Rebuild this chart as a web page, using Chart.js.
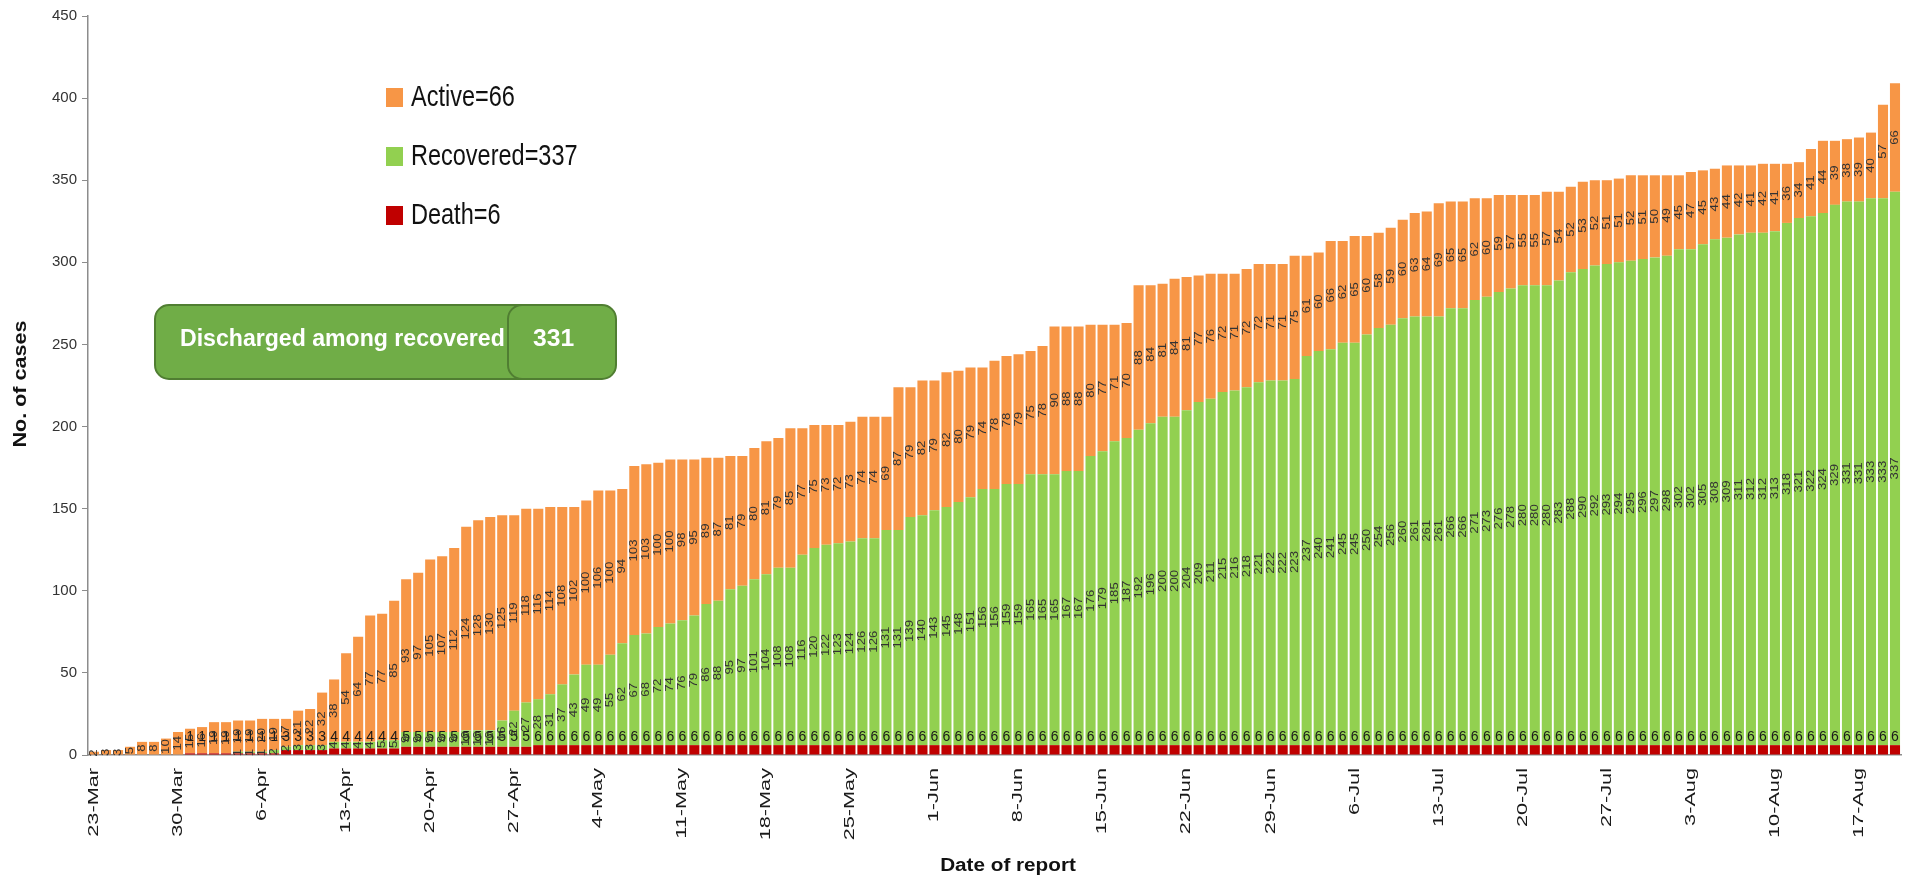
<!DOCTYPE html>
<html>
<head>
<meta charset="utf-8">
<script src="https://cdn.jsdelivr.net/npm/chart.js@4.4.0/dist/chart.umd.min.js"></script>
<style>
  body { margin: 0; background: #fff; }
  #wrap { width: 1912px; height: 881px; }
</style>
</head>
<body>
<div id="wrap"><canvas id="casesChart" width="1912" height="881"></canvas></div>
<script>
// daily cumulative counts, 23-Mar to 20-Aug
const death = [
    0, 0, 0, 0, 0, 0, 0, 0, 1, 1,
    1, 1, 1, 1, 1, 1, 3, 3, 3, 3,
    4, 4, 4, 4, 4, 4, 5, 5, 5, 5,
    5, 5, 5, 5, 5, 5, 5, 6, 6, 6,
    6, 6, 6, 6, 6, 6, 6, 6, 6, 6,
    6, 6, 6, 6, 6, 6, 6, 6, 6, 6,
    6, 6, 6, 6, 6, 6, 6, 6, 6, 6,
    6, 6, 6, 6, 6, 6, 6, 6, 6, 6,
    6, 6, 6, 6, 6, 6, 6, 6, 6, 6,
    6, 6, 6, 6, 6, 6, 6, 6, 6, 6,
    6, 6, 6, 6, 6, 6, 6, 6, 6, 6,
    6, 6, 6, 6, 6, 6, 6, 6, 6, 6,
    6, 6, 6, 6, 6, 6, 6, 6, 6, 6,
    6, 6, 6, 6, 6, 6, 6, 6, 6, 6,
    6, 6, 6, 6, 6, 6, 6, 6, 6, 6, 6
];
const recovered = [
    0, 0, 0, 0, 0, 0, 0, 0, 0, 0,
    0, 0, 1, 1, 1, 2, 2, 3, 3, 3,
    4, 4, 4, 4, 5, 5, 9, 9, 9, 9,
    9, 10, 10, 10, 16, 22, 27, 28, 31, 37,
    43, 49, 49, 55, 62, 67, 68, 72, 74, 76,
    79, 86, 88, 95, 97, 101, 104, 108, 108, 116,
    120, 122, 123, 124, 126, 126, 131, 131, 139, 140,
    143, 145, 148, 151, 156, 156, 159, 159, 165, 165,
    165, 167, 167, 176, 179, 185, 187, 192, 196, 200,
    200, 204, 209, 211, 215, 216, 218, 221, 222, 222,
    223, 237, 240, 241, 245, 245, 250, 254, 256, 260,
    261, 261, 261, 266, 266, 271, 273, 276, 278, 280,
    280, 280, 283, 288, 290, 292, 293, 294, 295, 296,
    297, 298, 302, 302, 305, 308, 309, 311, 312, 312,
    313, 318, 321, 322, 324, 329, 331, 331, 333, 333, 337
];
const active = [
    2, 3, 3, 5, 8, 8, 10, 14, 15, 16,
    19, 19, 19, 19, 20, 19, 17, 21, 22, 32,
    38, 54, 64, 77, 77, 85, 93, 97, 105, 107,
    112, 124, 128, 130, 125, 119, 118, 116, 114, 108,
    102, 100, 106, 100, 94, 103, 103, 100, 100, 98,
    95, 89, 87, 81, 79, 80, 81, 79, 85, 77,
    75, 73, 72, 73, 74, 74, 69, 87, 79, 82,
    79, 82, 80, 79, 74, 78, 78, 79, 75, 78,
    90, 88, 88, 80, 77, 71, 70, 88, 84, 81,
    84, 81, 77, 76, 72, 71, 72, 72, 71, 71,
    75, 61, 60, 66, 62, 65, 60, 58, 59, 60,
    63, 64, 69, 65, 65, 62, 60, 59, 57, 55,
    55, 57, 54, 52, 53, 52, 51, 51, 52, 51,
    50, 49, 45, 47, 45, 43, 44, 42, 41, 42,
    41, 36, 34, 41, 44, 39, 38, 39, 40, 57, 66
];
const discharged = 331;
const yTicks = [0, 50, 100, 150, 200, 250, 300, 350, 400, 450];

const monthNames = ['Jan', 'Feb', 'Mar', 'Apr', 'May', 'Jun', 'Jul', 'Aug', 'Sep', 'Oct', 'Nov', 'Dec'];
const dateLabels = active.map((_, i) => {
    const d = new Date(2020, 2, 23 + i);
    return d.getDate() + '-' + monthNames[d.getMonth()];
});

const COLORS = { death: '#C00000', recovered: '#92D050', active: '#F79646' };
const TEXT = '#262626';

// stretched text helper (the original export is a bit stretched)
function drawText(ctx, text, x, y, font, opts = {}) {
    ctx.save();
    ctx.translate(x, y);
    if (opts.rotate) ctx.rotate(opts.rotate);
    ctx.scale(opts.sx || 1, opts.sy || 1);
    ctx.font = font;
    ctx.fillStyle = opts.color || TEXT;
    ctx.textAlign = opts.align || 'center';
    ctx.textBaseline = opts.baseline || 'middle';
    ctx.fillText(text, 0, 0);
    ctx.restore();
}

const barLabels = {
    id: 'barLabels',
    afterDatasetsDraw(chart) {
        const ctx = chart.ctx;
        chart.data.datasets.forEach((ds, di) => {
            const meta = chart.getDatasetMeta(di);
            meta.data.forEach((bar, i) => {
                const v = ds.data[i];
                if (!v) return;
                if (di === 0) {
                    drawText(ctx, String(v), bar.x, bar.base - 17, '14px "Liberation Sans"', { color: '#1a1a1a' });
                } else {
                    const cy = (bar.y + bar.base) / 2;
                    drawText(ctx, String(v), bar.x, cy, '11px "Liberation Sans"',
                        { rotate: -Math.PI / 2, sx: 1.2, color: '#333' });
                }
            });
        });
    }
};

const decorations = {
    id: 'decorations',
    afterDraw(chart) {
        const ctx = chart.ctx;
        const xs = chart.scales.x;
        const ys = chart.scales.y;
        const area = chart.chartArea;

        // y tick labels
        yTicks.forEach(t => {
            drawText(ctx, String(t), area.left - 11, ys.getPixelForValue(t), '15px "Liberation Sans"',
                { align: 'right', color: '#333' });
        });

        // x labels every 7 days
        dateLabels.forEach((lab, i) => {
            if (i % 7 !== 0) return;
            drawText(ctx, lab, xs.getPixelForValue(i), area.bottom + 13, '14px "Liberation Sans"',
                { rotate: -Math.PI / 2, sx: 1.55, align: 'right', color: '#1a1a1a' });
        });

        // axis titles
        drawText(ctx, 'No. of cases', 21, 384, 'bold 18px "Liberation Sans"',
            { rotate: -Math.PI / 2, sx: 1.2, color: '#111' });
        drawText(ctx, 'Date of report', 1008, 866, 'bold 18px "Liberation Sans"',
            { sx: 1.15, color: '#111' });

        // legend
        const legendItems = [
            { text: 'Active=' + active[active.length - 1], color: COLORS.active, y: 98 },
            { text: 'Recovered=' + recovered[recovered.length - 1], color: COLORS.recovered, y: 157 },
            { text: 'Death=' + death[death.length - 1], color: COLORS.death, y: 216 }
        ];
        legendItems.forEach(item => {
            ctx.fillStyle = item.color;
            ctx.fillRect(386, item.y - 10, 17, 19);
            drawText(ctx, item.text, 411, item.y, '25px "Liberation Sans"',
                { align: 'left', sx: 0.94, sy: 1.15, color: '#111' });
        });

        // discharged box
        ctx.save();
        ctx.lineWidth = 2;
        ctx.strokeStyle = '#507E32';
        ctx.fillStyle = '#70AD47';
        ctx.beginPath();
        ctx.roundRect(155, 305, 424, 74, 14);
        ctx.fill();
        ctx.stroke();
        ctx.beginPath();
        ctx.roundRect(508, 305, 108, 74, 14);
        ctx.fill();
        ctx.stroke();
        ctx.restore();
        drawText(ctx, 'Discharged among recovered', 180, 340, 'bold 22px "Liberation Sans"',
            { align: 'left', sx: 1.05, sy: 1.05, color: '#fff' });
        drawText(ctx, String(discharged), 533, 340, 'bold 22px "Liberation Sans"',
            { align: 'left', sx: 1.12, sy: 1.05, color: '#fff' });
    }
};

const ctx = document.getElementById('casesChart').getContext('2d');

new Chart(ctx, {
    type: 'bar',
    data: {
        labels: dateLabels,
        datasets: [
            { label: 'Death', data: death, backgroundColor: COLORS.death },
            { label: 'Recovered', data: recovered, backgroundColor: COLORS.recovered },
            { label: 'Active', data: active, backgroundColor: COLORS.active }
        ]
    },
    options: {
        responsive: false,
        animation: false,
        datasets: {
            bar: { barPercentage: 0.84, categoryPercentage: 1, borderWidth: 0 }
        },
        layout: {
            padding: { top: 16, right: 11, left: 0, bottom: 0 }
        },
        plugins: {
            legend: { display: false },
            tooltip: { enabled: false }
        },
        scales: {
            x: {
                stacked: true,
                grid: { display: false },
                border: { display: true, color: '#8c8c8c', width: 1.5 },
                ticks: { display: false },
                afterFit: s => { s.height = 126; }
            },
            y: {
                stacked: true,
                min: 0,
                max: 450,
                grid: { display: true, drawOnChartArea: false, drawTicks: true, tickLength: 6, color: '#8c8c8c' },
                border: { display: true, color: '#8c8c8c', width: 1.5 },
                ticks: { display: false, stepSize: 50 },
                afterFit: s => { s.width = 88; }
            }
        }
    },
    plugins: [barLabels, decorations]
});
</script>
</body>
</html>
